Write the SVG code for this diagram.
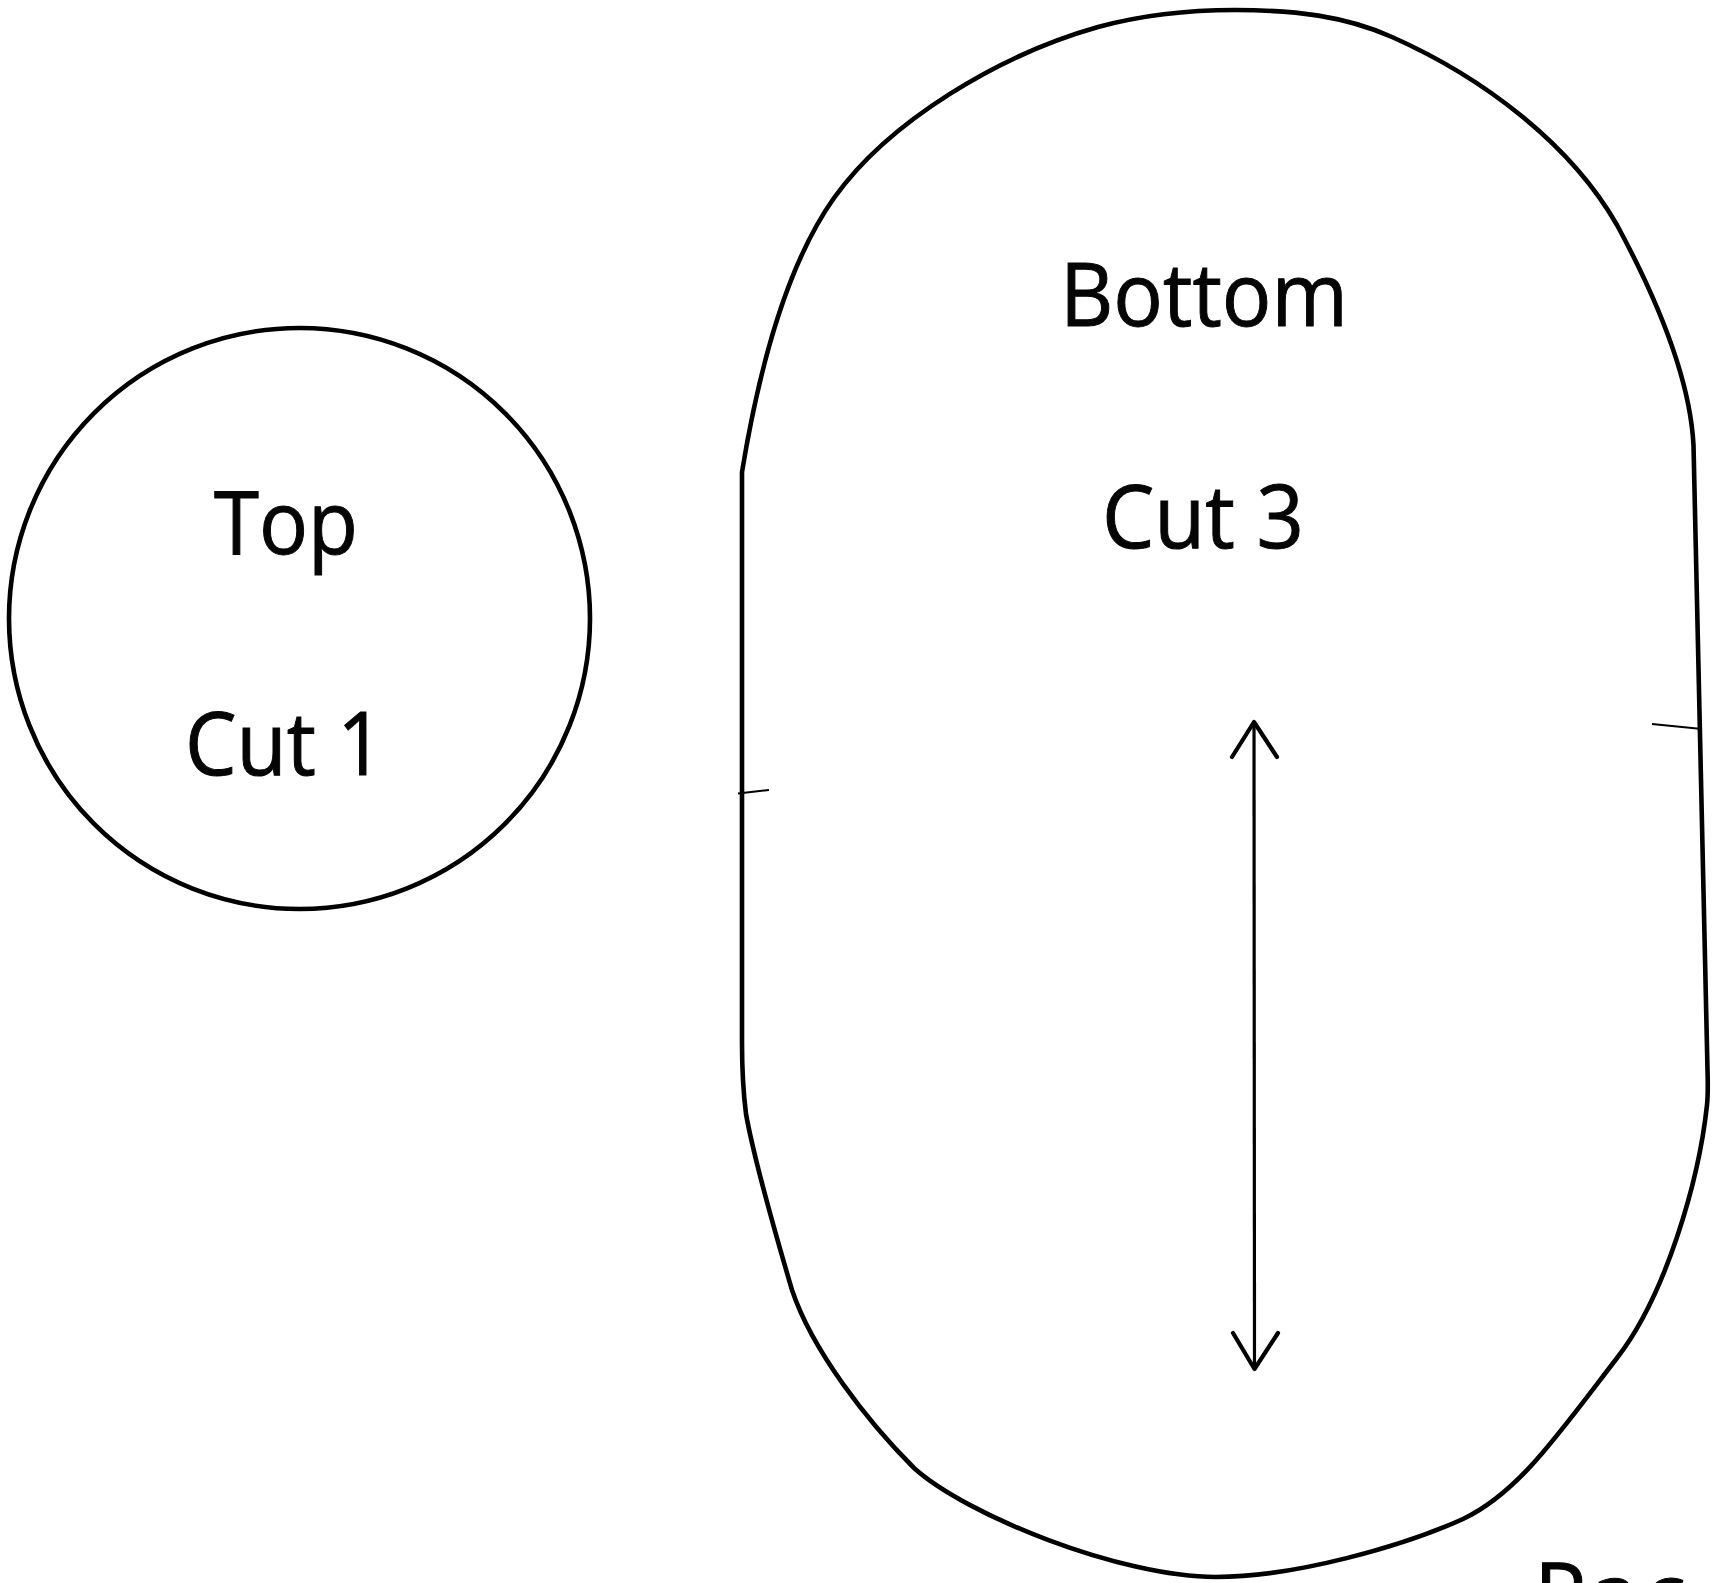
<svg xmlns="http://www.w3.org/2000/svg" width="1720" height="1583" viewBox="0 0 1720 1583">
<style>
.o{fill:none;stroke:#000;stroke-width:4.6}
.t{fill:none;stroke:#000;stroke-width:2}
.s{fill:none;stroke:#000;stroke-width:3.2}
.a{fill:none;stroke:#000;stroke-width:4.2;stroke-linecap:round;stroke-linejoin:round}
text{font-family:"Open Sans","Noto Sans","Liberation Sans",sans-serif;font-size:87px;fill:#050505;stroke:#050505;stroke-width:1}
</style>
<rect width="1720" height="1583" fill="#fff"/>
<g id="top-piece">
<circle class="o" cx="299.5" cy="618.5" r="290.5"/>
<text x="214" y="554" textLength="144" lengthAdjust="spacingAndGlyphs">Top</text>
<text x="185" y="775" textLength="199" lengthAdjust="spacingAndGlyphs">Cut 1</text>
</g>
<g id="bottom-piece">
<path class="o" d="M742 472C768 313 807 236 834 198C889 121 999 55 1098 27C1142 15 1191 10 1235 10C1295 10 1345 16 1392 37C1482 77 1570 143 1617 225C1657 299 1690 379 1693.5 445L1707.5 1070C1708 1085 1708 1095 1707 1105C1699 1180 1666 1295 1617 1358C1557 1436 1518 1493 1463 1519C1403 1546 1295 1577 1216 1577C1120 1577 966 1515 914 1468C867 1421 812 1350 792 1290C774 1229 753 1153 746 1114C744 1098 742 1065 742 1043Z"/>
<text x="1060" y="326" textLength="288" lengthAdjust="spacingAndGlyphs">Bottom</text>
<text x="1102" y="547.5" textLength="202" lengthAdjust="spacingAndGlyphs">Cut 3</text>
<text x="1534 1590 1644" y="1626">Pac</text>
</g>
<g id="connectors">
<path class="t" d="M738 793.5L769 790M1652 724L1702 729"/>
<path class="s" d="M1254 721L1254.5 1368"/>
<path class="a" d="M1232 757L1254 722L1277 757M1233 1333L1254.5 1369L1278 1333"/>
</g>
</svg>
